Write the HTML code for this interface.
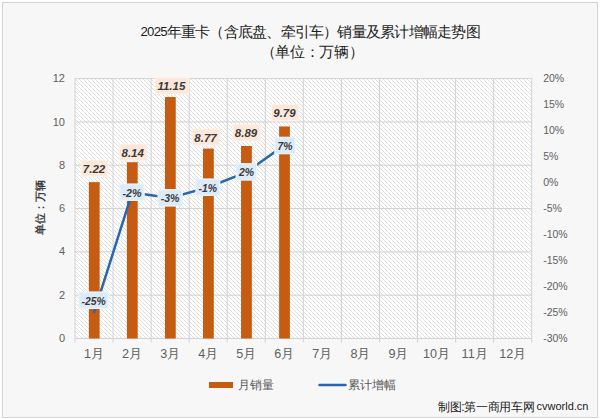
<!DOCTYPE html>
<html><head><meta charset="utf-8"><style>
html,body{margin:0;padding:0;background:#fff;width:600px;height:419px;overflow:hidden}
svg{display:block;font-family:"Liberation Sans",sans-serif}
</style></head><body>
<svg width="600" height="419" viewBox="0 0 600 419">
<defs>
<pattern id="hatch" patternUnits="userSpaceOnUse" width="4" height="4">
<rect width="4" height="4" fill="#ffffff"/>
<path d="M-1,-1 L5,5 M-1,3 L1,5 M3,-1 L5,1" stroke="#dedede" stroke-width="1"/>
</pattern>
</defs>
<rect x="2.5" y="2.5" width="595" height="415" fill="#f7f7f7" stroke="#d4d4d4" stroke-width="1"/>

<rect x="75.0" y="78.6" width="456.70" height="259.90" fill="url(#hatch)"/>
<path d="M75.0,121.92H531.7 M75.0,165.23H531.7 M75.0,208.55H531.7 M75.0,251.87H531.7 M75.0,295.18H531.7 M113.06,78.6V338.5 M151.12,78.6V338.5 M189.18,78.6V338.5 M227.23,78.6V338.5 M265.29,78.6V338.5 M303.35,78.6V338.5 M341.41,78.6V338.5 M379.47,78.6V338.5 M417.53,78.6V338.5 M455.58,78.6V338.5 M493.64,78.6V338.5" stroke="#d2d2d2" stroke-width="1" fill="none"/>
<path d="M75.0,78.6H531.7V338.5H75.0Z" stroke="#d2d2d2" stroke-width="1" fill="none"/>
<path d="M75.00,338.5V342.5 M113.06,338.5V342.5 M151.12,338.5V342.5 M189.18,338.5V342.5 M227.23,338.5V342.5 M265.29,338.5V342.5 M303.35,338.5V342.5 M341.41,338.5V342.5 M379.47,338.5V342.5 M417.53,338.5V342.5 M455.58,338.5V342.5 M493.64,338.5V342.5 M531.70,338.5V342.5" stroke="#d2d2d2" stroke-width="1" fill="none"/>
<rect x="88.85" y="182.13" width="10.8" height="156.37" fill="#c65c12"/>
<rect x="126.90" y="162.20" width="10.8" height="176.30" fill="#c65c12"/>
<rect x="164.95" y="97.01" width="10.8" height="241.49" fill="#c65c12"/>
<rect x="203.00" y="148.56" width="10.8" height="189.94" fill="#c65c12"/>
<rect x="241.05" y="145.96" width="10.8" height="192.54" fill="#c65c12"/>
<rect x="279.10" y="126.46" width="10.8" height="212.04" fill="#c65c12"/>
<polyline points="94.25,311.99 132.30,192.44 170.35,197.89 208.40,187.24 246.45,172.16 284.50,145.13" fill="none" stroke="#2967aa" stroke-width="2.5" stroke-linejoin="round" stroke-linecap="round"/>
<rect x="80.60" y="159.50" width="28.00" height="17.60" fill="#fdf2eb"/><rect x="81.80" y="160.70" width="25.60" height="15.20" fill="#fce8db"/>
<rect x="119.10" y="143.50" width="28.40" height="17.60" fill="#fdf2eb"/><rect x="120.30" y="144.70" width="26.00" height="15.20" fill="#fce8db"/>
<rect x="154.70" y="77.00" width="34.60" height="17.60" fill="#fdf2eb"/><rect x="155.90" y="78.20" width="32.20" height="15.20" fill="#fce8db"/>
<rect x="191.80" y="128.40" width="28.60" height="17.60" fill="#fdf2eb"/><rect x="193.00" y="129.60" width="26.20" height="15.20" fill="#fce8db"/>
<rect x="232.30" y="123.90" width="28.60" height="17.60" fill="#fdf2eb"/><rect x="233.50" y="125.10" width="26.20" height="15.20" fill="#fce8db"/>
<rect x="270.70" y="103.70" width="28.70" height="17.60" fill="#fdf2eb"/><rect x="271.90" y="104.90" width="26.30" height="15.20" fill="#fce8db"/>
<rect x="78.30" y="291.40" width="30.80" height="17.60" fill="#edf4fb"/><rect x="79.50" y="292.60" width="28.40" height="15.20" fill="#dcebf8"/>
<rect x="119.15" y="183.40" width="25.65" height="17.60" fill="#edf4fb"/><rect x="120.35" y="184.60" width="23.25" height="15.20" fill="#dcebf8"/>
<rect x="157.40" y="189.00" width="25.40" height="17.60" fill="#edf4fb"/><rect x="158.60" y="190.20" width="23.00" height="15.20" fill="#dcebf8"/>
<rect x="195.30" y="178.40" width="25.10" height="17.60" fill="#edf4fb"/><rect x="196.50" y="179.60" width="22.70" height="15.20" fill="#dcebf8"/>
<rect x="235.60" y="163.10" width="21.60" height="17.60" fill="#edf4fb"/><rect x="236.80" y="164.30" width="19.20" height="15.20" fill="#dcebf8"/>
<rect x="274.20" y="136.70" width="21.60" height="17.60" fill="#edf4fb"/><rect x="275.40" y="137.90" width="19.20" height="15.20" fill="#dcebf8"/>
<text x="94.00" y="172.80" text-anchor="middle" font-size="11.5" font-weight="bold" font-style="italic" fill="#3a3a3a">7.22</text>
<text x="132.70" y="156.80" text-anchor="middle" font-size="11.5" font-weight="bold" font-style="italic" fill="#3a3a3a">8.14</text>
<text x="171.40" y="90.30" text-anchor="middle" font-size="11.5" font-weight="bold" font-style="italic" fill="#3a3a3a">11.15</text>
<text x="205.50" y="141.70" text-anchor="middle" font-size="11.5" font-weight="bold" font-style="italic" fill="#3a3a3a">8.77</text>
<text x="246.00" y="137.20" text-anchor="middle" font-size="11.5" font-weight="bold" font-style="italic" fill="#3a3a3a">8.89</text>
<text x="284.45" y="117.00" text-anchor="middle" font-size="11.5" font-weight="bold" font-style="italic" fill="#3a3a3a">9.79</text>
<text x="93.70" y="304.70" text-anchor="middle" textLength="24.20" lengthAdjust="spacingAndGlyphs" font-size="11.5" font-weight="bold" font-style="italic" fill="#3a3a3a">-25%</text>
<text x="131.97" y="196.70" text-anchor="middle" textLength="19.05" lengthAdjust="spacingAndGlyphs" font-size="11.5" font-weight="bold" font-style="italic" fill="#3a3a3a">-2%</text>
<text x="170.10" y="202.30" text-anchor="middle" textLength="18.80" lengthAdjust="spacingAndGlyphs" font-size="11.5" font-weight="bold" font-style="italic" fill="#3a3a3a">-3%</text>
<text x="207.85" y="191.70" text-anchor="middle" textLength="18.50" lengthAdjust="spacingAndGlyphs" font-size="11.5" font-weight="bold" font-style="italic" fill="#3a3a3a">-1%</text>
<text x="246.40" y="176.40" text-anchor="middle" textLength="15.00" lengthAdjust="spacingAndGlyphs" font-size="11.5" font-weight="bold" font-style="italic" fill="#3a3a3a">2%</text>
<text x="285.00" y="150.00" text-anchor="middle" textLength="15.00" lengthAdjust="spacingAndGlyphs" font-size="11.5" font-weight="bold" font-style="italic" fill="#3a3a3a">7%</text>
<text x="65" y="82.20" text-anchor="end" font-size="11" fill="#606060">12</text>
<text x="65" y="125.52" text-anchor="end" font-size="11" fill="#606060">10</text>
<text x="65" y="168.83" text-anchor="end" font-size="11" fill="#606060">8</text>
<text x="65" y="212.15" text-anchor="end" font-size="11" fill="#606060">6</text>
<text x="65" y="255.47" text-anchor="end" font-size="11" fill="#606060">4</text>
<text x="65" y="298.78" text-anchor="end" font-size="11" fill="#606060">2</text>
<text x="65" y="342.10" text-anchor="end" font-size="11" fill="#606060">0</text>
<text x="543.2" y="82.10" font-size="10.5" fill="#606060">20%</text>
<text x="543.2" y="108.09" font-size="10.5" fill="#606060">15%</text>
<text x="543.2" y="134.08" font-size="10.5" fill="#606060">10%</text>
<text x="543.2" y="160.07" font-size="10.5" fill="#606060">5%</text>
<text x="543.2" y="186.06" font-size="10.5" fill="#606060">0%</text>
<text x="543.2" y="212.05" font-size="10.5" fill="#606060">-5%</text>
<text x="543.2" y="238.04" font-size="10.5" fill="#606060">-10%</text>
<text x="543.2" y="264.03" font-size="10.5" fill="#606060">-15%</text>
<text x="543.2" y="290.02" font-size="10.5" fill="#606060">-20%</text>
<text x="543.2" y="316.01" font-size="10.5" fill="#606060">-25%</text>
<text x="543.2" y="342.00" font-size="10.5" fill="#606060">-30%</text>
<text x="94.03" y="358.4" text-anchor="middle" font-size="12.6" fill="#606060">1月</text>
<text x="132.09" y="358.4" text-anchor="middle" font-size="12.6" fill="#606060">2月</text>
<text x="170.15" y="358.4" text-anchor="middle" font-size="12.6" fill="#606060">3月</text>
<text x="208.20" y="358.4" text-anchor="middle" font-size="12.6" fill="#606060">4月</text>
<text x="246.26" y="358.4" text-anchor="middle" font-size="12.6" fill="#606060">5月</text>
<text x="284.32" y="358.4" text-anchor="middle" font-size="12.6" fill="#606060">6月</text>
<text x="322.38" y="358.4" text-anchor="middle" font-size="12.6" fill="#606060">7月</text>
<text x="360.44" y="358.4" text-anchor="middle" font-size="12.6" fill="#606060">8月</text>
<text x="398.50" y="358.4" text-anchor="middle" font-size="12.6" fill="#606060">9月</text>
<text x="436.55" y="358.4" text-anchor="middle" font-size="12.6" fill="#606060">10月</text>
<text x="474.61" y="358.4" text-anchor="middle" font-size="12.6" fill="#606060">11月</text>
<text x="512.67" y="358.4" text-anchor="middle" font-size="12.6" fill="#606060">12月</text>
<text x="140.5" y="37" font-size="14.5" fill="#1e1e1e" textLength="340" lengthAdjust="spacing"><tspan y="36.2" font-size="13.2">2025</tspan><tspan y="37">年重卡（含底盘、牵引车）销量及累计增幅走势图</tspan></text>
<text x="260.5" y="57" font-size="14.5" fill="#1e1e1e" textLength="103" lengthAdjust="spacing">（单位：万辆）</text>
<text transform="translate(44,207.6) rotate(-90)" text-anchor="middle" font-size="10.5" fill="#333" stroke="#333" stroke-width="0.3">单位：万辆</text>
<rect x="209" y="382" width="24" height="6" fill="#c65c12"/>
<text x="237.6" y="389" font-size="11.8" fill="#595959">月销量</text>
<line x1="319.5" y1="385" x2="345.5" y2="385" stroke="#2967aa" stroke-width="2.5" stroke-linecap="round"/>
<text x="347.6" y="389" font-size="11.9" fill="#595959">累计增幅</text>
<text x="438" y="411" font-size="12" fill="#222" textLength="96.5" lengthAdjust="spacing">制图:第一商用车网</text>
<text x="536.5" y="409.7" font-size="11" fill="#222">cvworld.cn</text>
</svg></body></html>
